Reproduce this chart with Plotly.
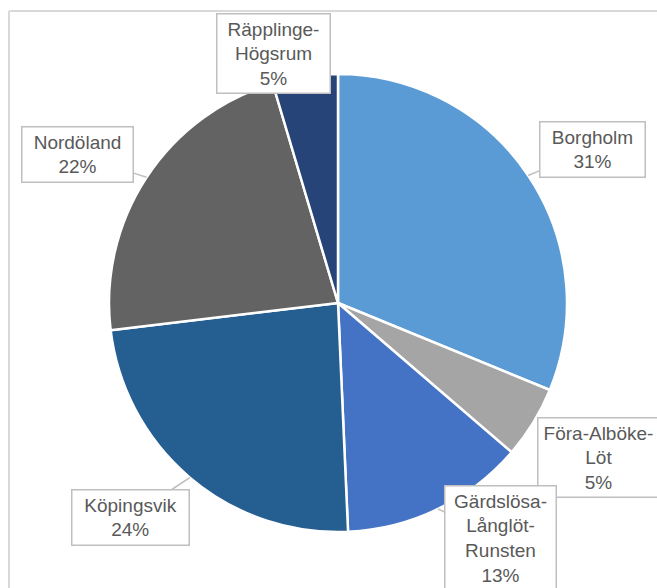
import math
import plotly.graph_objects as go

labels = ["Borgholm", "Föra-Alböke-Löt", "Gärdslösa-Långlöt-Runsten",
          "Köpingsvik", "Nordöland", "Räpplinge-Högsrum"]
label_text = ["Borgholm", "Föra-Alböke-<br>Löt", "Gärdslösa-<br>Långlöt-<br>Runsten",
              "Köpingsvik", "Nordöland", "Räpplinge-<br>Högsrum"]
values = [31.2, 5.1, 13.0, 23.8, 22.3, 4.6]
colors = ["#5B9BD5", "#A5A5A5", "#4472C4", "#255E91", "#636363", "#264478"]

W, H = 657, 588
cx, cy, R = 338, 303, 229

fig = go.Figure(go.Pie(
    labels=labels, values=values, sort=False, direction="clockwise", rotation=0,
    marker=dict(colors=colors, line=dict(color="white", width=2.5)),
    textinfo="none", hoverinfo="label+percent", showlegend=False,
    domain=dict(x=[(cx - R) / W, (cx + R) / W], y=[1 - (cy + R) / H, 1 - (cy - R) / H]),
))

# label box centres (pixels), text width and whether to draw a callout pointer
boxes = {
    "Borgholm": (592, 149, 96, True),
    "Föra-Alböke-Löt": (598, 457, 112, False),
    "Gärdslösa-Långlöt-Runsten": (500, 538, 102, True),
    "Köpingsvik": (130, 517, 108, True),
    "Nordöland": (77, 155, 102, True),
    "Räpplinge-Högsrum": (273, 54, 104, False),
}

total = sum(values)
cum = 0
annotations = []
for lab, txt, v in zip(labels, label_text, values):
    mid = (cum + v / 2) / total * 2 * math.pi
    cum += v
    tx = cx + R * math.sin(mid)
    ty = cy - R * math.cos(mid)
    bx, by, bw, arrow = boxes[lab]
    pct = round(v / total * 100)
    common = dict(
        text=f"{txt}<br>{pct}%", xref="paper", yref="paper",
        font=dict(family="Liberation Sans, Arial, sans-serif", size=19, color="#595959"),
        bgcolor="white", bordercolor="#BFBFBF", borderwidth=1.5, borderpad=4,
        width=bw, align="center",
    )
    if arrow:
        annotations.append(dict(
            x=tx / W, y=1 - ty / H, ax=bx - tx, ay=by - ty, axref="pixel", ayref="pixel",
            showarrow=True, arrowhead=0, arrowwidth=1.5, arrowcolor="#BFBFBF",
            standoff=0, **common))
    else:
        annotations.append(dict(x=bx / W, y=1 - by / H, xanchor="center", yanchor="middle",
                                showarrow=False, **common))

fig.update_layout(
    width=W, height=H, margin=dict(l=0, r=0, t=0, b=0),
    paper_bgcolor="white", plot_bgcolor="white",
    annotations=annotations,
    shapes=[
        dict(type="line", xref="paper", yref="paper", x0=9 / W, x1=1.02, y0=1 - 11 / H, y1=1 - 11 / H,
             line=dict(color="#D9D9D9", width=2)),
        dict(type="line", xref="paper", yref="paper", x0=9 / W, x1=9 / W, y0=1 - 11 / H, y1=-0.02,
             line=dict(color="#D9D9D9", width=2)),
    ],
)

fig.write_html("out.html", config={"displayModeBar": False},
               post_script="document.body.style.margin='0';document.body.style.overflow='hidden';")
